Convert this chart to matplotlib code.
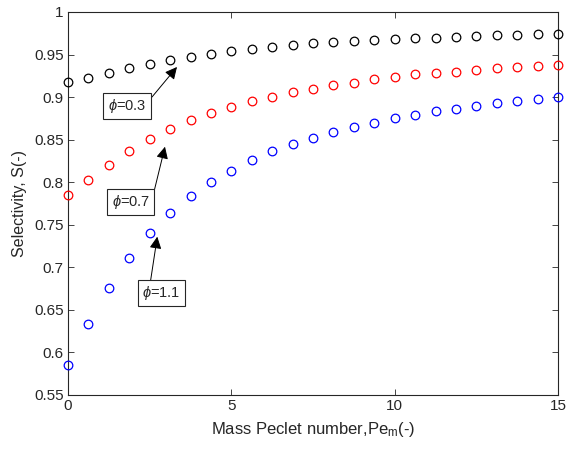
import numpy as np
import matplotlib
matplotlib.use("Agg")
import matplotlib.pyplot as plt

plt.rcParams['font.family'] = ['Liberation Sans', 'DejaVu Sans']
plt.rcParams['mathtext.fontset'] = 'custom'
plt.rcParams['mathtext.rm'] = 'Liberation Sans'
plt.rcParams['mathtext.it'] = 'Liberation Sans:italic'

pe = [i * 0.625 for i in range(25)]
s_phi03 = [0.918, 0.923, 0.9285, 0.934, 0.939, 0.9435, 0.947, 0.951, 0.954,
           0.956, 0.959, 0.961, 0.9635, 0.965, 0.966, 0.967, 0.968, 0.969,
           0.970, 0.971, 0.9715, 0.9725, 0.973, 0.974, 0.974]
s_phi07 = [0.7845, 0.803, 0.8206, 0.8366, 0.8512, 0.863, 0.8728, 0.8819,
           0.8885, 0.8955, 0.900, 0.9058, 0.910, 0.914, 0.9167, 0.9207,
           0.9234, 0.9266, 0.9278, 0.9297, 0.9313, 0.9337, 0.9352, 0.9367,
           0.938]
s_phi11 = [0.5854, 0.6333, 0.6761, 0.7106, 0.7403, 0.7644, 0.7841, 0.8001,
           0.8135, 0.8257, 0.8363, 0.8445, 0.8524, 0.8595, 0.8645, 0.870,
           0.8751, 0.879, 0.8834, 0.8857, 0.8896, 0.8928, 0.8955, 0.8979,
           0.9007]
xticks = [0, 5, 10, 15]
yticks = [0.55, 0.6, 0.65, 0.7, 0.75, 0.8, 0.85, 0.9, 0.95, 1.0]
ytick_labels = ['0.55', '0.6', '0.65', '0.7', '0.75', '0.8', '0.85', '0.9', '0.95', '1']

fig = plt.figure(figsize=(5.68, 4.55), dpi=100)
ax = fig.add_axes([68/568, 60/455, 490/568, 383/455])

axc = '#262626'
for ys, c in [(s_phi03, 'k'), (s_phi07, 'r'), (s_phi11, 'b')]:
    ax.plot(pe, ys, linestyle='none', marker='o', markersize=6.2,
            markerfacecolor='none', markeredgecolor=c, markeredgewidth=0.9,
            clip_on=False, zorder=3)

ax.set_xlim(0, 15)
ax.set_ylim(0.55, 1.0)
ax.set_xticks(xticks)
ax.set_xticklabels([str(t) for t in xticks])
ax.set_yticks(yticks)
ax.set_yticklabels(ytick_labels)
ax.tick_params(direction='in', top=True, right=True, length=4, width=0.6,
               colors=axc, labelsize=11, pad=3)
for sp in ax.spines.values():
    sp.set_color(axc)
    sp.set_linewidth(0.8)

ax.set_xlabel('Mass Peclet number,Pe$_{\\mathrm{m}}$(-)', fontsize=12, color=axc, labelpad=5)
ax.set_ylabel('Selectivity, S(-)', fontsize=11.5, color=axc, labelpad=5)

annots = [
    ('$\\phi$=0.3', (1.806, 0.8895), (2.571, 0.9001), (3.336, 0.9354)),
    ('$\\phi$=0.7', (1.928, 0.7767), (2.632, 0.7888), (2.969, 0.8417)),
    ('$\\phi$=1.1', (2.847, 0.6698), (2.531, 0.6851), (2.733, 0.7360)),
]
for txt, center, tail, head in annots:
    ax.text(center[0], center[1], txt, ha='center', va='center', fontsize=10.5,
            color=axc, zorder=5,
            bbox=dict(boxstyle='square,pad=0.3', facecolor='white',
                      edgecolor=axc, linewidth=0.8))
    ax.annotate('', xy=head, xytext=tail,
                arrowprops=dict(arrowstyle='-|>', mutation_scale=18,
                                color='k', lw=0.7, shrinkA=0, shrinkB=0),
                zorder=4)

fig.savefig('out.png', dpi=100)
